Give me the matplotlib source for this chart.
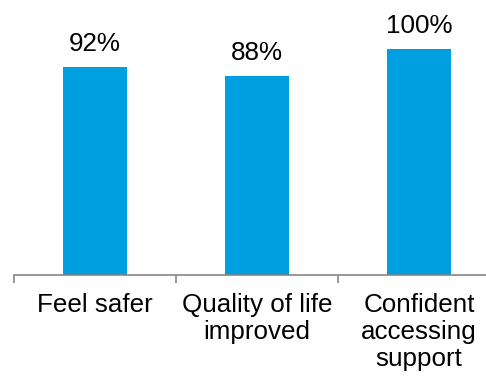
import matplotlib.pyplot as plt

categories = ["Feel safer", "Quality of life\nimproved", "Confident\naccessing\nsupport"]
values = [92, 88, 100]
labels = ["92%", "88%", "100%"]

plt.rcParams['font.family'] = ['Liberation Sans', 'DejaVu Sans']

fig = plt.figure(figsize=(4.86, 3.8), dpi=100)
# axis runs from x=14px to past the right edge (500px), baseline at y=275px
ax = fig.add_axes([14/486, 105/380, 486/486, 275/380])

x = list(range(len(values)))
ax.bar(x, values, width=0.395, color='#00A0E0')
ax.set_xlim(-0.5, 2.5)
ax.set_ylim(0, 100*275/226)

for xi, v, lab in zip(x, values, labels):
    ax.annotate(lab, (xi, v), xytext=(0, 8), textcoords='offset points',
                ha='center', va='bottom', fontsize=18.7, color='#000000')

for s in ['top', 'right', 'left']:
    ax.spines[s].set_visible(False)
ax.spines['bottom'].set_color('#868686')
ax.spines['bottom'].set_linewidth(1.2)
ax.set_yticks([])

ax.set_xticks(x)
ax.set_xticklabels(categories, fontsize=18.7, linespacing=1.15)
ax.tick_params(axis='x', which='major', length=0, pad=13)
ax.set_xticks([-0.5, 0.5, 1.5, 2.5], minor=True)
ax.tick_params(axis='x', which='minor', length=6, width=1.2, color='#868686')

fig.savefig('out.png', dpi=100)
